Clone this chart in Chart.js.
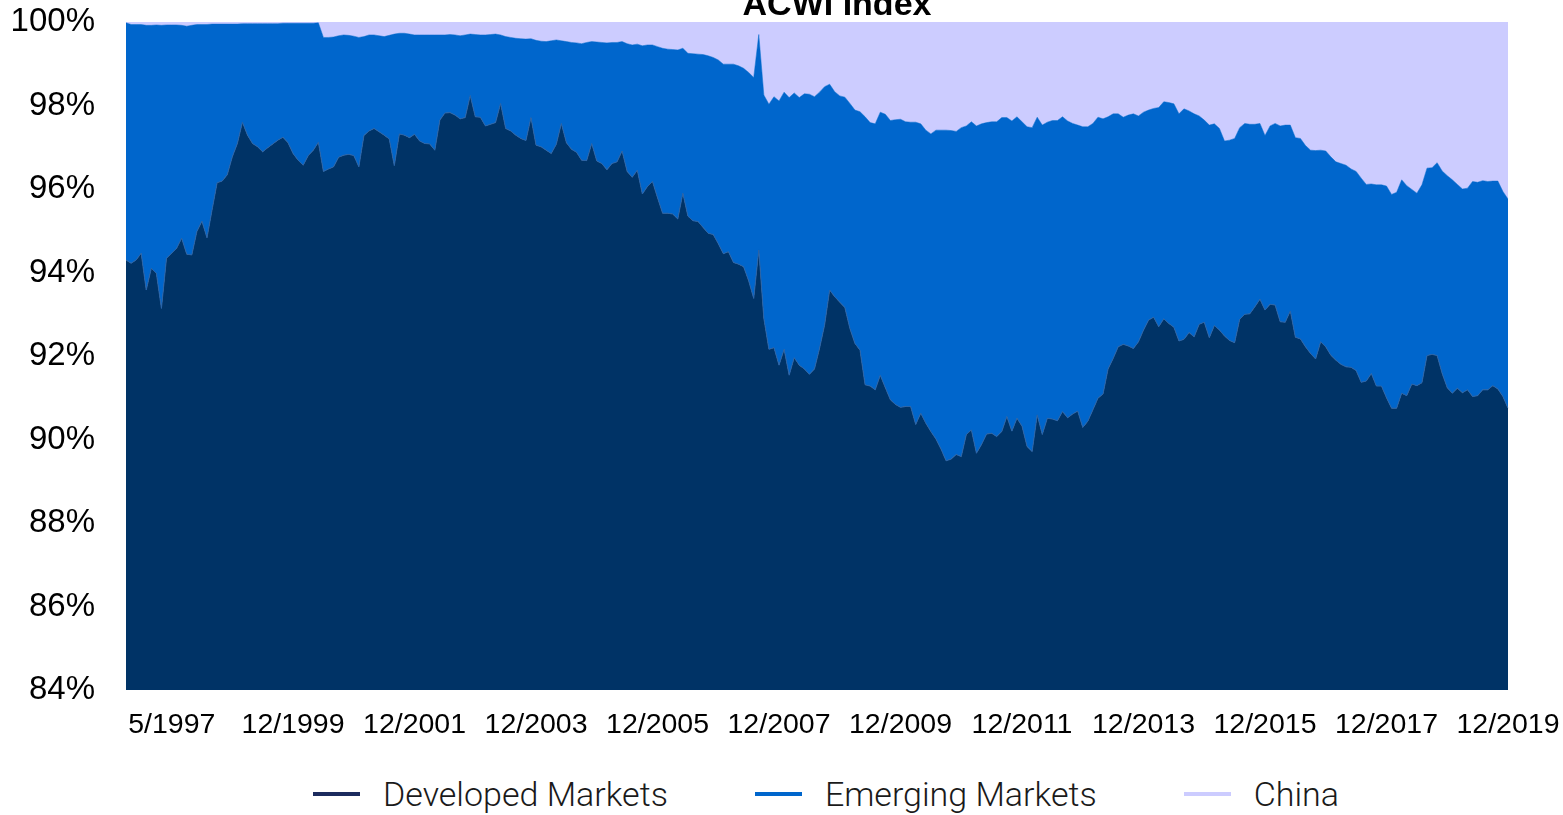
<!DOCTYPE html>
<html>
<head>
<meta charset="utf-8">
<title>ACWI Index</title>
<script src="https://cdn.jsdelivr.net/npm/chart.js@4.4.1/dist/chart.umd.min.js"></script>
<style>
  html, body { margin: 0; padding: 0; background: #fff; }
  #wrap { position: relative; width: 1563px; height: 815px; }
  #chart { position: absolute; left: 0; top: 0; }
  #legend {
    position: absolute; left: 313px; top: 770px; height: 48px;
    display: flex; align-items: center; gap: 87px;
    font-family: Roboto, "Noto Sans", sans-serif; font-weight: 300;
    font-size: 34px; color: #1a1a1a; white-space: nowrap;
  }
  .item { display: flex; align-items: center; }
  .swatch { width: 47px; height: 4px; margin-right: 23px; }
</style>
</head>
<body>
<div id="wrap">
  <canvas id="chart" width="1563" height="760"></canvas>
  <div id="legend"></div>
</div>
<script>
// monthly, 3/1997 .. 12/2019
const months = [];
for (let y = 1997, m = 3; y < 2020;) {
    months.push(m + '/' + y);
    m++;
    if (m > 12) { m = 1; y++; }
}

const tickLabels = ['5/1997', '12/1999', '12/2001', '12/2003', '12/2005', '12/2007',
    '12/2009', '12/2011', '12/2013', '12/2015', '12/2017', '12/2019'];

const yTicks = [84, 86, 88, 90, 92, 94, 96, 98, 100];

// weights in %
const developed = [
    94.30, 94.22, 94.30, 94.46, 93.58, 94.10, 93.98, 93.14, 94.34, 94.46, 94.58, 94.82,
    94.44, 94.42, 94.98, 95.23, 94.83, 95.50, 96.15, 96.19, 96.34, 96.77, 97.09, 97.60,
    97.29, 97.09, 97.01, 96.89, 96.99, 97.08, 97.17, 97.24, 97.11, 96.85, 96.69, 96.57,
    96.80, 96.93, 97.12, 96.42, 96.48, 96.53, 96.76, 96.81, 96.83, 96.80, 96.53, 97.28,
    97.39, 97.45, 97.37, 97.29, 97.20, 96.56, 97.32, 97.29, 97.23, 97.31, 97.15, 97.09,
    97.08, 96.93, 97.65, 97.82, 97.83, 97.77, 97.68, 97.71, 98.24, 97.73, 97.72, 97.51,
    97.55, 97.59, 98.05, 97.45, 97.39, 97.29, 97.21, 97.16, 97.71, 97.05, 97.01, 96.93,
    96.85, 97.07, 97.57, 97.11, 96.95, 96.88, 96.69, 96.68, 97.09, 96.67, 96.61, 96.46,
    96.61, 96.65, 96.91, 96.42, 96.28, 96.45, 95.88, 96.06, 96.18, 95.79, 95.42, 95.42,
    95.40, 95.28, 95.90, 95.35, 95.24, 95.22, 95.08, 94.94, 94.91, 94.69, 94.45, 94.50,
    94.24, 94.20, 94.14, 93.80, 93.38, 94.54, 92.90, 92.16, 92.20, 91.78, 92.16, 91.54,
    91.96, 91.78, 91.69, 91.56, 91.69, 92.18, 92.74, 93.58, 93.42, 93.29, 93.16, 92.66,
    92.30, 92.14, 91.31, 91.28, 91.19, 91.54, 91.24, 90.95, 90.84, 90.77, 90.79, 90.79,
    90.36, 90.63, 90.39, 90.19, 90.01, 89.77, 89.49, 89.53, 89.64, 89.59, 90.12, 90.23,
    89.67, 89.88, 90.13, 90.15, 90.07, 90.19, 90.55, 90.20, 90.51, 90.32, 89.83, 89.71,
    90.59, 90.12, 90.51, 90.49, 90.45, 90.67, 90.52, 90.61, 90.68, 90.29, 90.44, 90.71,
    90.99, 91.09, 91.69, 91.94, 92.22, 92.28, 92.24, 92.18, 92.34, 92.62, 92.86, 92.93,
    92.70, 92.89, 92.78, 92.69, 92.36, 92.40, 92.56, 92.46, 92.76, 92.81, 92.44, 92.73,
    92.62, 92.48, 92.37, 92.32, 92.88, 93.00, 93.01, 93.18, 93.36, 93.10, 93.24, 93.22,
    92.82, 92.81, 93.08, 92.45, 92.41, 92.22, 92.06, 91.93, 92.34, 92.22, 92.02, 91.90,
    91.80, 91.74, 91.73, 91.65, 91.37, 91.40, 91.58, 91.28, 91.28, 91.00, 90.75, 90.75,
    91.11, 91.05, 91.33, 91.29, 91.36, 92.01, 92.04, 92.01, 91.58, 91.24, 91.11, 91.23,
    91.12, 91.19, 91.03, 91.05, 91.19, 91.19, 91.29, 91.21, 91.03, 90.75
];

const emerging = [
    5.68, 5.72, 5.64, 5.48, 6.34, 5.82, 5.95, 6.78, 5.59, 5.47, 5.35, 5.10,
    5.46, 5.50, 4.96, 4.71, 5.11, 4.45, 3.80, 3.76, 3.61, 3.18, 2.86, 2.36,
    2.67, 2.87, 2.95, 3.07, 2.97, 2.88, 2.79, 2.73, 2.86, 3.12, 3.28, 3.40,
    3.17, 3.04, 2.86, 3.21, 3.15, 3.11, 2.91, 2.88, 2.85, 2.86, 3.10, 2.37,
    2.30, 2.24, 2.30, 2.36, 2.48, 3.15, 2.41, 2.44, 2.48, 2.38, 2.54, 2.60,
    2.61, 2.76, 2.04, 1.87, 1.87, 1.92, 1.99, 1.98, 1.47, 1.97, 1.97, 2.18,
    2.15, 2.12, 1.64, 2.20, 2.24, 2.32, 2.39, 2.43, 1.89, 2.51, 2.53, 2.60,
    2.70, 2.50, 1.98, 2.42, 2.56, 2.62, 2.79, 2.83, 2.44, 2.85, 2.90, 3.04,
    2.90, 2.86, 2.62, 3.06, 3.17, 3.02, 3.55, 3.39, 3.27, 3.62, 3.95, 3.93,
    3.94, 4.05, 3.47, 3.90, 4.00, 4.01, 4.14, 4.25, 4.24, 4.40, 4.54, 4.49,
    4.75, 4.75, 4.75, 4.99, 5.29, 5.16, 5.35, 5.87, 6.01, 6.33, 6.16, 6.65,
    6.34, 6.41, 6.59, 6.71, 6.52, 6.14, 5.71, 4.93, 4.91, 4.94, 5.04, 5.39,
    5.59, 5.71, 6.42, 6.31, 6.37, 6.30, 6.55, 6.69, 6.82, 6.90, 6.82, 6.81,
    7.24, 6.93, 7.02, 7.13, 7.40, 7.64, 7.92, 7.87, 7.74, 7.88, 7.39, 7.38,
    7.84, 7.68, 7.46, 7.46, 7.54, 7.52, 7.16, 7.43, 7.22, 7.29, 7.66, 7.76,
    7.13, 7.41, 7.09, 7.15, 7.19, 7.06, 7.11, 6.96, 6.85, 7.20, 7.05, 6.86,
    6.73, 6.59, 6.04, 5.86, 5.58, 5.44, 5.53, 5.62, 5.41, 5.22, 5.03, 5.00,
    5.25, 5.20, 5.29, 5.35, 5.44, 5.52, 5.31, 5.34, 4.99, 4.84, 5.09, 4.83,
    4.83, 4.67, 4.80, 4.89, 4.59, 4.57, 4.54, 4.37, 4.21, 4.18, 4.27, 4.35,
    4.69, 4.72, 4.45, 4.78, 4.80, 4.82, 4.87, 4.99, 4.59, 4.69, 4.75, 4.75,
    4.81, 4.83, 4.75, 4.77, 4.89, 4.71, 4.54, 4.82, 4.82, 5.07, 5.12, 5.17,
    5.11, 5.03, 4.66, 4.61, 4.74, 4.49, 4.47, 4.62, 4.85, 5.08, 5.11, 4.88,
    4.88, 4.83, 5.15, 5.11, 5.01, 4.99, 4.90, 4.98, 4.91, 5.01
];

const china = [
    0.02, 0.06, 0.06, 0.06, 0.08, 0.08, 0.07, 0.08, 0.07, 0.07, 0.07, 0.08,
    0.10, 0.08, 0.06, 0.06, 0.06, 0.05, 0.05, 0.05, 0.05, 0.05, 0.05, 0.04,
    0.04, 0.04, 0.04, 0.04, 0.04, 0.04, 0.04, 0.03, 0.03, 0.03, 0.03, 0.03,
    0.03, 0.03, 0.02, 0.37, 0.37, 0.36, 0.33, 0.31, 0.32, 0.34, 0.37, 0.35,
    0.31, 0.31, 0.33, 0.35, 0.32, 0.29, 0.27, 0.27, 0.29, 0.31, 0.31, 0.31,
    0.31, 0.31, 0.31, 0.31, 0.30, 0.31, 0.33, 0.31, 0.29, 0.30, 0.31, 0.31,
    0.30, 0.29, 0.31, 0.35, 0.37, 0.39, 0.40, 0.41, 0.40, 0.44, 0.46, 0.47,
    0.45, 0.43, 0.45, 0.47, 0.49, 0.50, 0.52, 0.49, 0.47, 0.48, 0.49, 0.50,
    0.49, 0.49, 0.47, 0.52, 0.55, 0.53, 0.57, 0.55, 0.55, 0.59, 0.63, 0.65,
    0.66, 0.67, 0.63, 0.75, 0.76, 0.77, 0.78, 0.81, 0.85, 0.91, 1.01, 1.01,
    1.01, 1.05, 1.11, 1.21, 1.33, 0.30, 1.75, 1.97, 1.79, 1.89, 1.68, 1.81,
    1.70, 1.81, 1.72, 1.73, 1.79, 1.68, 1.55, 1.49, 1.67, 1.77, 1.80, 1.95,
    2.11, 2.15, 2.27, 2.41, 2.44, 2.16, 2.21, 2.36, 2.34, 2.33, 2.39, 2.40,
    2.40, 2.44, 2.59, 2.68, 2.59, 2.59, 2.59, 2.60, 2.62, 2.53, 2.49, 2.39,
    2.49, 2.44, 2.41, 2.39, 2.39, 2.29, 2.29, 2.37, 2.27, 2.39, 2.51, 2.53,
    2.28, 2.47, 2.40, 2.36, 2.36, 2.27, 2.37, 2.43, 2.47, 2.51, 2.51, 2.43,
    2.28, 2.32, 2.27, 2.20, 2.20, 2.28, 2.23, 2.20, 2.25, 2.16, 2.11, 2.07,
    2.05, 1.91, 1.93, 1.96, 2.20, 2.08, 2.13, 2.20, 2.25, 2.35, 2.47, 2.44,
    2.55, 2.85, 2.83, 2.79, 2.53, 2.43, 2.45, 2.45, 2.43, 2.72, 2.49, 2.43,
    2.49, 2.47, 2.47, 2.77, 2.79, 2.96, 3.07, 3.08, 3.07, 3.09, 3.23, 3.35,
    3.39, 3.43, 3.52, 3.58, 3.74, 3.89, 3.88, 3.90, 3.90, 3.93, 4.13, 4.08,
    3.78, 3.92, 4.01, 4.10, 3.90, 3.50, 3.49, 3.37, 3.57, 3.68, 3.78, 3.89,
    4.00, 3.98, 3.82, 3.84, 3.80, 3.82, 3.81, 3.81, 4.06, 4.24
];

// title sits half above the canvas edge, like the original export
const clippedTitle = {
    id: 'clippedTitle',
    afterDraw(chart) {
        const ctx = chart.ctx;
        ctx.save();
        ctx.font = 'bold 34px "Liberation Sans", Arial, sans-serif';
        ctx.fillStyle = '#000';
        ctx.textAlign = 'center';
        ctx.textBaseline = 'alphabetic';
        ctx.fillText('ACWI Index', 837, 15);
        ctx.restore();
    }
};

const datasets = [
    { label: 'Developed Markets', data: developed, backgroundColor: '#003366', borderColor: '#2a64a8', borderWidth: 1, fill: 'start', legendColor: '#1c2b5e' },
    { label: 'Emerging Markets', data: emerging, backgroundColor: '#0066CC', borderColor: '#0066CC', borderWidth: 0.5, fill: '-1', legendColor: '#0066CC' },
    { label: 'China', data: china, backgroundColor: '#CCCCFF', borderColor: '#CCCCFF', borderWidth: 0, fill: '-1', legendColor: '#CCCCFF' }
];

const chart = new Chart(document.getElementById('chart'), {
    type: 'line',
    data: {
        labels: months,
        datasets: datasets.map(d => ({
            label: d.label,
            data: d.data,
            backgroundColor: d.backgroundColor,
            borderColor: d.borderColor,
            borderWidth: d.borderWidth,
            fill: d.fill,
            pointRadius: 0,
            tension: 0
        }))
    },
    options: {
        responsive: false,
        animation: false,
        devicePixelRatio: 1,
        layout: { padding: { top: 22, right: 55, bottom: 0, left: 10 } },
        plugins: {
            legend: { display: false },
            title: { display: false },
            tooltip: { enabled: false }
        },
        scales: {
            x: {
                grid: { display: false, drawTicks: false },
                border: { display: false },
                ticks: {
                    autoSkip: false,
                    maxRotation: 0,
                    minRotation: 0,
                    padding: 18,
                    color: '#000',
                    font: { family: '"Liberation Sans", Arial, sans-serif', size: 28.5 },
                    callback: function (val, i) {
                        const m = months[i];
                        if (!tickLabels.includes(m)) return null;
                        // first label reads left-aligned in the original
                        return i === months.indexOf(tickLabels[0]) ? '         ' + m : m;
                    }
                },
                afterFit: axis => {
                    axis.height = 70;
                    axis.paddingLeft = 0;
                    axis.paddingRight = 0;
                }
            },
            y: {
                stacked: true,
                min: 84,
                max: 100,
                grid: { display: false, drawTicks: false },
                border: { display: false },
                afterBuildTicks: axis => { axis.ticks = yTicks.map(v => ({ value: v })); },
                ticks: {
                    padding: 31,
                    color: '#000',
                    font: { family: '"Liberation Sans", Arial, sans-serif', size: 33 },
                    callback: v => v + '%'
                },
                afterFit: axis => {
                    axis.width = 116;
                    axis.paddingTop = 0;
                    axis.paddingBottom = 0;
                }
            }
        }
    },
    plugins: [clippedTitle]
});

// legend below the canvas
const legend = document.getElementById('legend');
datasets.forEach(d => {
    const item = document.createElement('div');
    item.className = 'item';
    const sw = document.createElement('span');
    sw.className = 'swatch';
    sw.style.background = d.legendColor;
    const txt = document.createElement('span');
    txt.textContent = d.label;
    item.appendChild(sw);
    item.appendChild(txt);
    legend.appendChild(item);
});
</script>
</body>
</html>
